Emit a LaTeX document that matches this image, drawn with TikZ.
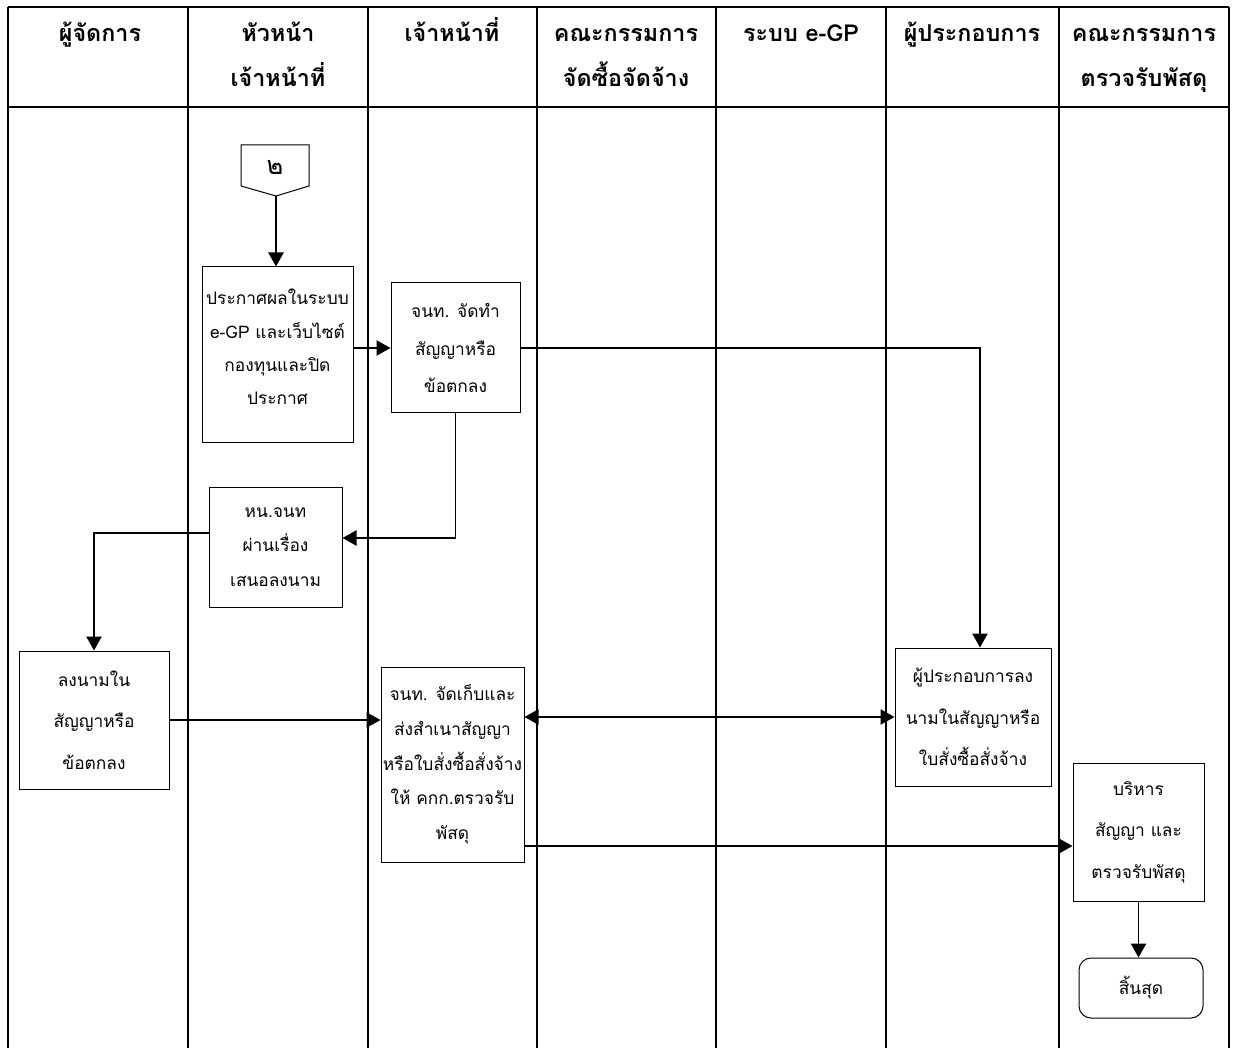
\documentclass[tikz,border=0pt]{standalone}
\usepackage{fontspec}
\setmainfont{Loma}[Script=Thai]
\usetikzlibrary{arrows.meta,calc}
\begin{document}
\begin{tikzpicture}[x=0.75pt,y=-0.75pt,
  lane/.style={line width=2pt},
  box/.style={draw, line width=0.75pt, rectangle, align=center, inner sep=0pt, font=\fontsize{13pt}{25pt}\selectfont},
  hdr/.style={anchor=base, inner sep=0pt, font=\bfseries\fontsize{17.5pt}{21pt}\selectfont},
  arr/.style={line width=1pt, -{Triangle[length=10.5pt,width=11.5pt]}},
  arrb/.style={line width=1pt, {Triangle[length=10.5pt,width=11.5pt]}-{Triangle[length=10.5pt,width=11.5pt]}}
]
\fill[white] (0,0) rectangle (1235,1048);
\useasboundingbox (0,0) rectangle (1235,1048);
% lanes
\draw[lane] (8,7) -- (1229,7);
\draw[lane] (8,107) -- (1229,107);
\foreach \xx in {8,188,368,537,716,886,1059,1229}
  \draw[lane] (\xx,7) -- (\xx,1048);
% headers
\node[hdr] (h1) at (100,42) {ผู้จัดการ};
\node[hdr] (h2) at (278,42) {หัวหน้า};
\node[hdr] (h2b) at (278,87) {เจ้าหน้าที่};
\node[hdr] (h3) at (452,42) {เจ้าหน้าที่};
\node[hdr] (h4) at (626,42) {คณะกรรมการ};
\node[hdr] (h4b) at (626,87) {จัดซื้อจัดจ้าง};
\node[hdr] (h5) at (801,42) {ระบบ e-GP};
\node[hdr] (h6) at (972,42) {ผู้ประกอบการ};
\node[hdr] (h7) at (1144,42) {คณะกรรมการ};
\node[hdr] (h7b) at (1144,87) {ตรวจรับพัสดุ};
% off-page connector
\draw[line width=0.75pt] (241,145) -- (309,145) -- (309,186) -- (276,196) -- (241,186) -- cycle;
\node[font=\fontsize{19pt}{21pt}\selectfont] (c2) at (275,167) {๒};
\coordinate (c2tip) at (276,196);
% boxes
\node[box, minimum width=113.25pt, minimum height=131.25pt] (b1) at (277.5,354.5)
  {ประกาศผลในระบบ\\e-GP และเว็บไซต์\\กองทุนและปิด\\ประกาศ\\[-14pt]};
\node[box, minimum width=96.75pt, minimum height=97.5pt, font=\fontsize{13pt}{28pt}\selectfont] (b2) at (455.5,348)
  {จนท. จัดทำ\\สัญญาหรือ\\ข้อตกลง};
\node[box, minimum width=99.75pt, minimum height=90pt, font=\fontsize{13pt}{26pt}\selectfont] (b3) at (275.5,547)
  {หน.จนท\\ผ่านเรื่อง\\เสนอลงนาม};
\node[box, minimum width=112.5pt, minimum height=103.5pt, font=\fontsize{13pt}{31pt}\selectfont] (b4) at (94,720)
  {ลงนามใน\\สัญญาหรือ\\ข้อตกลง};
\node[box, minimum width=107.25pt, minimum height=146.25pt, font=\fontsize{13pt}{26pt}\selectfont] (b5) at (452.5,764.5)
  {จนท. จัดเก็บและ\\ส่งสำเนาสัญญา\\หรือใบสั่งซื้อสั่งจ้าง\\ให้ คกก.ตรวจรับ\\พัสดุ};
\node[box, minimum width=117pt, minimum height=103.5pt, font=\fontsize{13pt}{31pt}\selectfont] (b6) at (973,717)
  {ผู้ประกอบการลง\\นามในสัญญาหรือ\\ใบสั่งซื้อสั่งจ้าง};
\node[box, minimum width=98.25pt, minimum height=103.5pt, font=\fontsize{13pt}{31pt}\selectfont] (b7) at (1138.5,832)
  {บริหาร\\สัญญา และ\\ตรวจรับพัสดุ};
\node[box, minimum width=93pt, minimum height=45pt, rounded corners=9pt] (e) at (1141,988) {สิ้นสุด};
% connectors
\draw[arr] (c2tip) -- (c2tip |- b1.north);
\draw[arr] (b1.east |- b2.west) -- (b2.west);
\draw[arr] (b2.east) -| ($(b6.north)+(7,0)$);
\draw[arr] (b2.south) |- ($(b3.east)+(0,-9)$);
\draw[arr] ($(b3.west)+(0,-14)$) -| (b4.north);
\draw[arr] (b4.east) -- (b4.east -| b5.west);
\draw[arrb] (b5.east |- b6.west) -- (b6.west);
\coordinate (p1) at ($(b7.west)+(0,14)$);
\draw[arr] (b5.east |- p1) -- (p1);
\draw[arr] (b7.south) -- (b7.south |- e.north);
\end{tikzpicture}
\end{document}
